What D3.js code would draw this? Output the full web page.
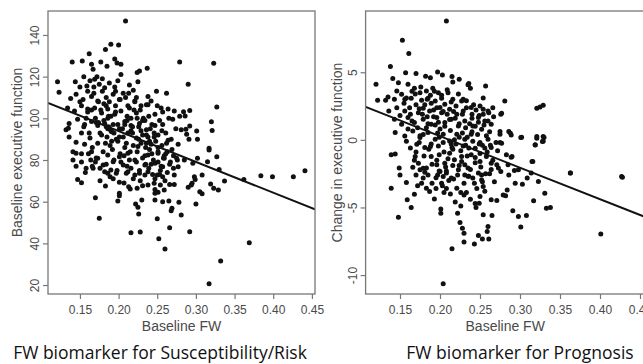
<!DOCTYPE html>
<html>
<head>
<meta charset="utf-8">
<script src="https://cdn.jsdelivr.net/npm/d3@7"></script>
<style>
  body { margin: 0; background: #fff; }
  svg { display: block; }
</style>
</head>
<body>
<div id="chart"></div>
<script>
// Left panel: baseline FW vs baseline executive function
const riskFW = [
  0.209,0.190,0.200,0.183,0.162,0.140,0.153,0.165,0.177,0.195,0.198,0.203,0.167,0.185,0.279,0.224,0.227,0.237,0.203,0.121,
  0.123,0.144,0.150,0.169,0.159,0.175,0.182,0.188,0.195,0.199,0.214,0.219,0.225,0.249,0.262,0.238,0.138,0.145,0.154,0.165,
  0.173,0.184,0.193,0.201,0.209,0.221,0.229,0.236,0.242,0.255,0.264,0.272,0.279,0.134,0.143,0.152,0.160,0.169,0.178,0.186,
  0.195,0.203,0.214,0.223,0.238,0.247,0.270,0.281,0.136,0.147,0.156,0.165,0.173,0.182,0.188,0.199,0.208,0.216,0.227,0.236,
  0.247,0.257,0.132,0.152,0.163,0.184,0.191,0.201,0.212,0.223,0.238,0.251,0.264,0.145,0.156,0.173,0.210,0.225,0.242,0.277,
  0.141,0.141,0.152,0.165,0.167,0.173,0.180,0.186,0.193,0.197,0.201,0.206,0.212,0.216,0.221,0.227,0.234,0.238,0.247,0.251,
  0.257,0.259,0.277,0.272,0.182,0.186,0.190,0.210,0.212,0.221,0.234,0.238,0.250,0.257,0.147,0.152,0.183,0.201,0.213,0.215,
  0.224,0.231,0.238,0.246,0.247,0.251,0.254,0.259,0.266,0.272,0.247,0.170,0.201,0.199,0.222,0.230,0.225,0.226,0.247,0.257,
  0.265,0.269,0.268,0.278,0.281,0.175,0.250,0.216,0.228,0.266,0.252,0.260,0.323,0.290,0.327,0.284,0.292,0.286,0.320,0.321,
  0.292,0.287,0.288,0.301,0.291,0.302,0.317,0.285,0.296,0.302,0.317,0.315,0.327,0.330,0.308,0.298,0.299,0.295,0.290,0.294,
  0.319,0.323,0.329,0.337,0.305,0.308,0.300,0.362,0.384,0.399,0.426,0.441,0.292,0.369,0.332,0.317,0.201,0.135,0.136,0.145,
  0.170,0.178,0.183,0.187,0.192,0.196,0.205,0.208,0.211,0.214,0.218,0.220,0.224,0.226,0.229,0.232,0.234,0.236,0.240,0.243,
  0.245,0.248,0.251,0.253,0.256,0.258,0.261,0.263,0.266,0.268,0.271,0.274,0.276,0.158,0.162,0.166,0.170,0.174,0.179,0.188,
  0.193,0.197,0.202,0.206,0.212,0.216,0.219,0.223,0.228,0.231,0.235,0.239,0.242,0.246,0.250,0.254,0.257,0.262,0.265,0.269,
  0.150,0.155,0.160,0.163,0.168,0.172,0.177,0.181,0.185,0.189,0.194,0.199,0.186,0.187,0.190,0.145,0.158,0.164,0.176,0.193,
  0.207,0.228,0.244,0.253,0.260,
  0.152,0.157,0.161,0.166,0.171,0.176,0.180,0.184,0.189,0.194,0.198,0.203,0.207,0.211,0.215,0.219,0.223,0.227,0.231,0.235,
  0.239,0.243,0.247,0.251,0.255,0.259,0.263,0.267,0.271,0.275,0.165,0.171,0.176,0.181,0.186,0.191,0.196,0.201,0.206,0.211,
  0.216,0.221,0.226,0.231,0.236,0.241,0.246,0.251,0.256,0.261,0.155,0.160,0.168,0.174,0.179,0.184,0.190,0.196,0.202,0.208,
  0.213,0.218,0.224,0.229,0.234,0.240
];
const riskEF = [
  146.7,135.5,135.2,133,131,127,127.5,126,127,128.5,126.5,126,123.5,125,127,122,122.7,124,121,117.5,
  112.5,117.6,115,118.7,115.5,116.3,114.7,117,115,118,116,113.5,117.5,113,112,110.5,109.5,111.5,109,110.5,
  108.3,110,111.5,109,110,108.3,106,106.5,108.3,105,104.5,103.5,101,105,103.5,106,104.5,105,102.5,104.5,
  102,103.5,105,102.5,106.5,102,99.5,94.5,97.5,99.5,97,98.5,96.5,97.5,95.5,97,98.5,96.5,97.5,94.5,
  96.5,97,94.5,93,90.5,96,93.5,91,93,90.5,91,92,89.5,88.5,87.5,88,88,86.5,87.5,87.5,
  84,80,83,84,76,80.8,77.6,82.4,79.2,73.6,81.6,77.6,83.2,76,80,73.6,77.6,82.4,78.4,83.2,
  76.8,80.8,76.8,72.8,74.4,73.6,75.2,73.6,74.4,72.8,72.8,74.4,72.8,72,70.7,69.1,67.5,69.3,67.2,66.1,
  66.4,67.7,68,68.8,65.9,64.5,68,65.6,68.3,68.3,64,61.9,62.9,60.3,58.9,60.8,57.3,54.1,60.8,60,
  60.3,56.8,55.7,59.7,53.6,52,51.8,45.1,45.4,47.5,42.2,37.3,126.4,116.3,105.4,103.2,103.8,101.1,98.4,94.2,
  96.3,94.7,92.3,93.9,89.9,89.9,85.6,80,78.4,80.8,84.8,79.2,81.6,75.5,72.8,72,70.7,68.8,66.9,68,
  68.5,66.4,65.6,69.9,64.8,63.8,58.9,70.7,72.5,72,72,74.9,45.6,40.3,31.5,20.6,64,95.2,91,83.2,
  100,92,88,101,85,106,95,86,101,80,93,104,84,96,88,100,82,92,85,97,
  80,89,84,99,87,81,93,84,78,90,82,95,80,100,93,86,79,108,113,108,
  97,90,83,112,106,100,87,110,104,92,86,101,78,93,106,75,103,88,100,85,
  108,120,113,118,112,120,104,99,91,87,93,89,95,96,94,77,76,80,70,71,
  69,70,73,73,70,
  79,74,83,77,81,76,84,78,72,80,75,79,82,77,84,71,79,75,81,78,
  76,83,71,79,77,82,74,79,76,81,104,98,93,107,100,89,103,95,91,99,
  94,108,90,99,88,95,91,86,94,83,96,103,115,98,119,106,101,113,109,97,
  112,96,100,94,99,89
];

// Right panel: baseline FW vs change in executive function
const progFW = [
  0.208,0.153,0.161,0.138,0.120,0.157,0.141,0.148,0.170,0.182,0.188,0.197,0.203,0.215,0.224,0.216,0.236,0.238,0.257,0.160,
  0.168,0.175,0.183,0.191,0.198,0.210,0.146,0.152,0.122,0.132,0.135,0.143,0.156,0.164,0.177,0.185,0.194,0.202,0.206,0.216,
  0.227,0.233,0.250,0.254,0.260,0.266,0.276,0.281,0.136,0.146,0.156,0.162,0.173,0.179,0.187,0.196,0.202,0.212,0.221,0.229,
  0.240,0.248,0.256,0.264,0.143,0.152,0.160,0.168,0.179,0.189,0.196,0.206,0.214,0.223,0.231,0.241,0.252,0.144,0.156,0.166,
  0.175,0.185,0.194,0.204,0.212,0.221,0.231,0.239,0.250,0.260,0.275,0.275,0.171,0.181,0.198,0.215,0.229,0.244,0.264,0.235,
  0.277,0.288,0.302,0.321,0.325,0.329,0.321,0.329,0.329,0.319,0.315,0.363,0.427,0.275,0.277,0.290,0.298,0.286,0.289,0.301,
  0.321,0.330,0.328,0.319,0.139,0.144,0.149,0.150,0.158,0.139,0.169,0.173,0.175,0.166,0.170,0.179,0.183,0.185,0.177,0.183,
  0.187,0.168,0.159,0.164,0.148,0.193,0.197,0.200,0.204,0.208,0.202,0.205,0.201,0.201,0.214,0.221,0.230,0.233,0.223,0.231,
  0.235,0.241,0.248,0.252,0.254,0.250,0.245,0.249,0.264,0.271,0.254,0.265,0.222,0.225,0.228,0.230,0.230,0.243,0.248,0.253,
  0.261,0.259,0.260,0.215,0.204,0.273,0.276,0.271,0.279,0.189,0.212,0.218,0.227,0.239,0.250,0.258,0.264,0.206,0.196,0.231,
  0.283,0.289,0.285,0.293,0.286,0.316,0.314,0.309,0.294,0.303,0.323,0.284,0.282,0.331,0.317,0.333,0.338,0.291,0.298,0.308,
  0.301,0.363,0.428,0.401,
  0.160,0.170,0.178,0.183,0.188,0.192,0.197,0.200,0.205,0.209,0.213,0.217,0.220,0.224,0.227,0.232,0.236,0.240,0.244,0.247,
  0.251,0.255,0.259,0.262,0.266,0.270,0.163,0.168,0.174,0.179,0.186,0.190,0.195,0.199,0.207,0.211,0.216,0.222,0.226,0.230,
  0.234,0.238,0.242,0.246,0.249,0.253,0.257,0.261,0.150,0.155,0.158,0.165,0.172,0.176,0.181,0.185,0.189,0.193,0.198,0.202,
  0.206,0.210,0.214,0.218,0.223,0.228,0.233,0.237,0.241,0.245,0.250,0.254,0.258,0.263,0.267,0.272,0.195,0.203,0.213,0.219,
  0.226,0.238,0.243,0.256,0.268,
  0.165,0.170,0.175,0.180,0.184,0.188,0.192,0.196,0.200,0.204,0.208,0.212,0.216,0.220,0.224,0.228,0.232,0.236,0.240,0.244,
  0.248,0.252,0.256,0.260,0.264,0.158,0.163,0.169,0.174,0.179,0.184,0.189,0.194,0.199,0.204,0.209,0.214,0.219,0.224,0.229,
  0.234,0.239,0.244,0.249,0.254,0.172,0.181,0.190,0.199,0.208,0.217,0.226,0.235,0.244,0.253,0.262
];
const progChange = [
  8.79,7.36,6.38,5.42,4.11,4.97,4.53,4.23,4.9,4.7,4.6,5.02,4.8,4.68,4.48,4.28,4.16,3.81,3.99,4.11,
  3.81,3.49,3.62,3.81,3.49,3.49,3.62,3.37,2.93,2.93,3.17,3.0,3.0,3.07,2.93,3.07,2.88,3.07,2.63,3.0,
  2.88,2.38,2.51,2.26,2.14,2.38,1.89,2.88,2.14,2.38,2.14,2.38,2.01,2.33,2.14,2.38,2.01,2.26,1.89,2.14,
  1.89,1.65,1.4,1.15,1.52,1.15,1.65,1.28,1.52,1.15,1.65,1.28,1.52,1.03,1.4,1.03,0.78,0.54,0.29,0.66,
  0.17,0.54,0.04,0.41,-0.08,0.41,0.04,0.41,-0.2,0.04,0.41,-0.2,-0.33,-0.57,-0.45,-0.57,-0.45,-0.62,-0.57,4.07,
  1.97,0.49,0.2,2.34,2.43,2.56,0.12,0.25,-0.1,-0.37,-1.6,-2.46,-2.71,0.62,-0.25,-1.23,-2.22,0.61,0.36,0.17,
  0.24,0.17,-0.13,-0.38,-1.11,-1.04,-2.09,-2.59,-3.15,-3.57,-1.23,-1.73,-2.22,-2.02,-2.59,-2.83,-2.09,-2.59,-3.2,-3.57,
  -3.82,-4.02,-4.43,-5.0,-5.72,-4.38,-2.59,-2.34,-2.71,-2.46,-3.2,-3.89,-5.12,-5.42,-2.83,-3.57,-4.07,-3.89,-2.22,-2.59,
  -2.09,-2.83,-2.46,-2.96,-3.45,-4.19,-5.0,-4.68,-4.43,-4.48,-5.54,-5.59,-5.42,-6.11,-6.53,-6.9,-7.56,-7.71,-7.07,-7.34,
  -7.34,-6.77,-6.4,-8.05,-10.64,-2.09,-2.34,-1.85,-4.07,-1.23,-0.99,-1.48,-1.23,-1.11,-1.6,-1.23,-1.73,-1.73,-1.85,-1.85,
  -1.11,-1.28,-1.85,-2.27,-2.59,-1.6,-2.46,-2.83,-3.2,-3.28,-3.08,-3.7,-4.14,-3.94,-4.51,-5.05,-5.0,-5.25,-5.67,-5.59,
  -6.45,-2.46,-2.76,-6.97,
  0.8,2.6,1.9,0.9,3.3,1.7,0.5,2.4,-0.9,1.9,0.7,2.1,-0.3,1.2,-1.6,0.9,-0.6,1.6,-1.3,0.4,
  -2.0,1.1,-0.9,0.6,-1.5,-0.2,-0.6,-1.5,-0.2,-2.1,-0.7,-1.8,-2.8,-1.1,-2.0,-3.0,-1.9,-2.6,-0.8,-3.2,
  0.2,-2.2,2.6,-3.6,1.8,-0.4,-2.5,2.0,1.8,2.7,-0.1,3.6,0.9,3.9,2.6,1.2,-0.3,3.6,1.3,3.3,
  1.0,-1.4,2.8,0.0,3.4,0.5,2.9,1.2,-0.1,2.2,-1.0,3.1,0.3,-0.4,1.7,-0.8,-3.6,-3.4,-4.0,-4.6,
  -4.9,-4.4,-3.2,-3.8,-3.1,
  1.4,-0.9,0.3,-1.2,1.7,-0.5,2.2,-1.5,0.8,-0.2,-2.3,1.5,-0.7,2.5,-1.9,1.9,-0.4,-2.7,0.6,-1.7,
  1.3,-2.6,-0.6,1.4,-2.2,3.1,1.9,3.4,2.3,0.4,3.0,2.7,1.1,0.2,2.1,3.7,-0.3,1.6,0.2,3.0,
  -1.2,2.4,1.0,-0.3,1.9,-3.4,-2.4,-3.2,-2.3,-3.6,-2.9,-3.9,-2.7,-4.7,-3.1,-2.5
];

// fitted regression lines
const riskFit = { intercept: 123.5, slope: -148 };
const progFit = { intercept: 4.93, slope: -23.3 };

const fwTicks = [0.15, 0.20, 0.25, 0.30, 0.35, 0.40, 0.45];
const riskTicks = [20, 40, 60, 80, 100, 120, 140];
const progTicks = [-10, -5, 0, 5];

const W = 643, H = 364;
const axisFont = "'Liberation Sans', Arial, sans-serif";
const axisColor = "#4a4a4a";

const svg = d3.select("#chart").append("svg")
  .attr("width", W)
  .attr("height", H)
  .style("background", "#fff");

const panels = [
  {
    xs: riskFW, ys: riskEF, fit: riskFit, yTicks: riskTicks,
    xDomain: [0.1087, 0.454], yDomain: [15.7, 151.5],
    left: 48, right: 315, top: 11, bottom: 294,
    yTitle: "Baseline executive function", yTitleX: 22,
    caption: "FW biomarker for Susceptibility/Risk", captionX: 160
  },
  {
    xs: progFW, ys: progChange, fit: progFit, yTicks: progTicks,
    xDomain: [0.107, 0.456], yDomain: [-11.4, 9.53],
    left: 365.6, right: 644.8, top: 11, bottom: 294,
    yTitle: "Change in executive function", yTitleX: 342,
    caption: "FW biomarker for Prognosis", captionX: 520
  }
];

panels.forEach((p, idx) => {
  const x = d3.scaleLinear().domain(p.xDomain).range([p.left, p.right]);
  const y = d3.scaleLinear().domain(p.yDomain).range([p.bottom, p.top]);

  const clipId = "clip" + idx;
  svg.append("clipPath").attr("id", clipId)
    .append("rect")
    .attr("x", p.left).attr("y", p.top)
    .attr("width", p.right - p.left).attr("height", p.bottom - p.top);

  // points
  const g = svg.append("g").attr("clip-path", `url(#${clipId})`);
  g.selectAll("circle")
    .data(d3.range(p.xs.length))
    .enter()
    .append("circle")
    .attr("cx", i => x(p.xs[i]))
    .attr("cy", i => y(p.ys[i]))
    .attr("r", 2.5)
    .attr("fill", "#111")

  // regression line across the plot region
  const fitLine = d3.line().x(d => x(d)).y(d => y(p.fit.intercept + p.fit.slope * d));
  g.append("path")
    .datum(p.xDomain)
    .attr("d", fitLine)
    .attr("fill", "none")
    .attr("stroke", "#111")
    .attr("stroke-width", 2);

  // box
  svg.append("rect")
    .attr("x", p.left).attr("y", p.top)
    .attr("width", p.right - p.left).attr("height", p.bottom - p.top)
    .attr("fill", "none")
    .attr("stroke", "#777")
    .attr("stroke-width", 1.3);

  // x axis
  const xAxis = svg.append("g")
    .attr("transform", `translate(0,${p.bottom})`)
    .call(d3.axisBottom(x).tickValues(fwTicks).tickFormat(d3.format(".2f"))
      .tickSize(5).tickPadding(6.5));
  xAxis.select(".domain").remove();
  xAxis.selectAll("line").attr("stroke", "#777").attr("stroke-width", 1.2);
  xAxis.selectAll("text")
    .attr("fill", axisColor)
    .style("font-family", axisFont)
    .style("font-size", "12px");

  // y axis, labels rotated like base R
  const yAxis = svg.append("g")
    .attr("transform", `translate(${p.left},0)`)
    .call(d3.axisLeft(y).tickValues(p.yTicks).tickFormat(d3.format("d")).tickSize(5));
  yAxis.select(".domain").remove();
  yAxis.selectAll("line").attr("stroke", "#777").attr("stroke-width", 1.2);
  yAxis.selectAll("text")
    .attr("transform", "rotate(-90)")
    .attr("x", 0)
    .attr("y", -9)
    .attr("dy", 0)
    .attr("text-anchor", "middle")
    .attr("fill", axisColor)
    .style("font-family", axisFont)
    .style("font-size", "12px")
    .text(d => d3.format("d")(d).replace("−", "-"));

  // axis titles
  svg.append("text")
    .attr("x", (p.left + p.right) / 2)
    .attr("y", 331)
    .attr("text-anchor", "middle")
    .attr("fill", axisColor)
    .style("font-family", axisFont)
    .style("font-size", "14px")
    .text("Baseline FW");

  svg.append("text")
    .attr("transform", `translate(${p.yTitleX},${(p.top + p.bottom) / 2}) rotate(-90)`)
    .attr("text-anchor", "middle")
    .attr("fill", axisColor)
    .style("font-family", axisFont)
    .style("font-size", "14px")
    .text(p.yTitle);

  // caption under each panel
  svg.append("text")
    .attr("x", p.captionX)
    .attr("y", 359)
    .attr("text-anchor", "middle")
    .attr("fill", "#111")
    .style("font-family", "'Open Sans', 'Noto Sans', sans-serif")
    .style("font-size", "17.5px")
    .text(p.caption);
});
</script>
</body>
</html>
